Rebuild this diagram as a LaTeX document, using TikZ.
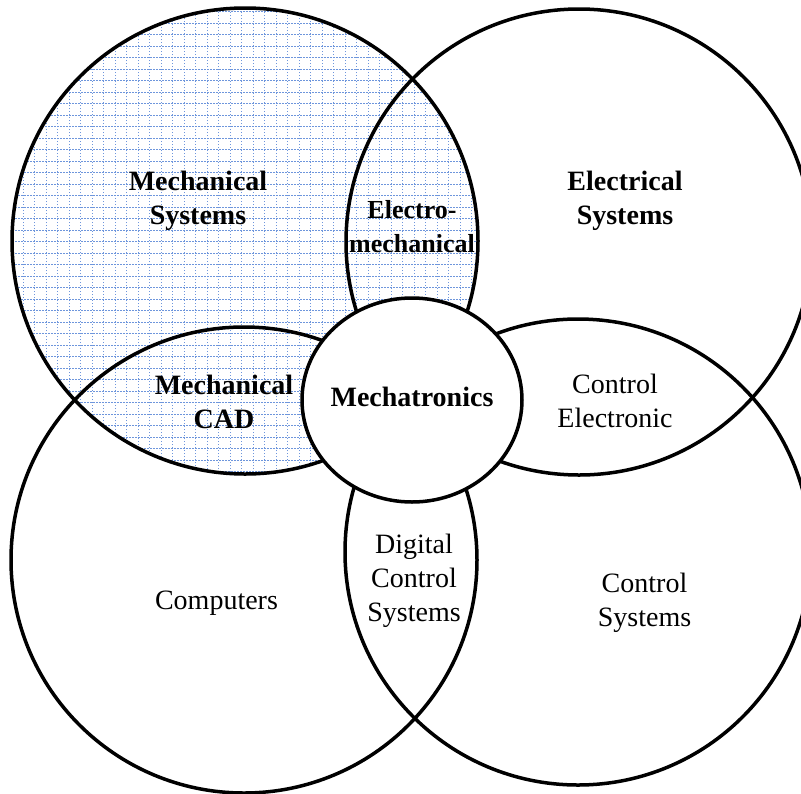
\documentclass[tikz,border=0pt]{standalone}
\usepackage{fontspec}
\setmainfont{Liberation Serif}
\definecolor{gridblue}{RGB}{110,150,220}
\tikzset{
    ring/.style={line width=3.5pt},
    gridline/.style={gridblue, line width=0.9pt, dash pattern=on 1.5pt off 1.5pt},
    plainlabel/.style={align=center, font=\fontsize{28}{34}\selectfont},
    boldlabel/.style={align=center, font=\fontsize{28}{34}\selectfont\bfseries},
}
\begin{document}
\begin{tikzpicture}[x=1pt, y=-1pt]
        \pgfmathsetmacro\r{233};
        \useasboundingbox (0,0) rectangle (801,793);

        \coordinate (mech) at (245,241);
        \coordinate (elec) at (579,242);
        \coordinate (comp) at (244,560);
        \coordinate (ctrl) at (578,552);
        \coordinate (core) at (412,400);

        % hatched mechanical area
        \begin{scope}
            \clip (mech) circle[radius=\r pt];
            \draw[gridline, step=11.5pt] (0,0) grid (490,490);
        \end{scope}

        \draw[ring] (mech) circle[radius=\r pt];
        \draw[ring] (elec) circle[radius=\r pt];
        \draw[ring] (comp) circle[radius=\r pt];
        \draw[ring] (ctrl) circle[radius=\r pt];
        \draw[ring, fill=white] (core) ellipse[x radius=110pt, y radius=102pt];

        \node[boldlabel] (mechsys) at (198,201) {Mechanical\\Systems};
        \node[boldlabel, font=\fontsize{26}{34}\selectfont\bfseries] (electromech) at (412,227) {Electro-\\mechanical};
        \node[boldlabel] (elecsys) at (625,201) {Electrical\\Systems};
        \node[boldlabel] (mechcad) at (224,402) {Mechanical\\CAD};
        \node[boldlabel] (mechatronics) at (412,397) {Mechatronics};
        \node[plainlabel] (ctrlelec) at (615,401) {Control\\Electronic};
        \node[plainlabel] (digital) at (414,581) {Digital\\Control\\Systems};
        \node[plainlabel] (computers) at (216.5,603) {Computers};
        \node[plainlabel] (ctrlsys) at (644.5,603) {Control\\Systems};
    \end{tikzpicture}
\end{document}
